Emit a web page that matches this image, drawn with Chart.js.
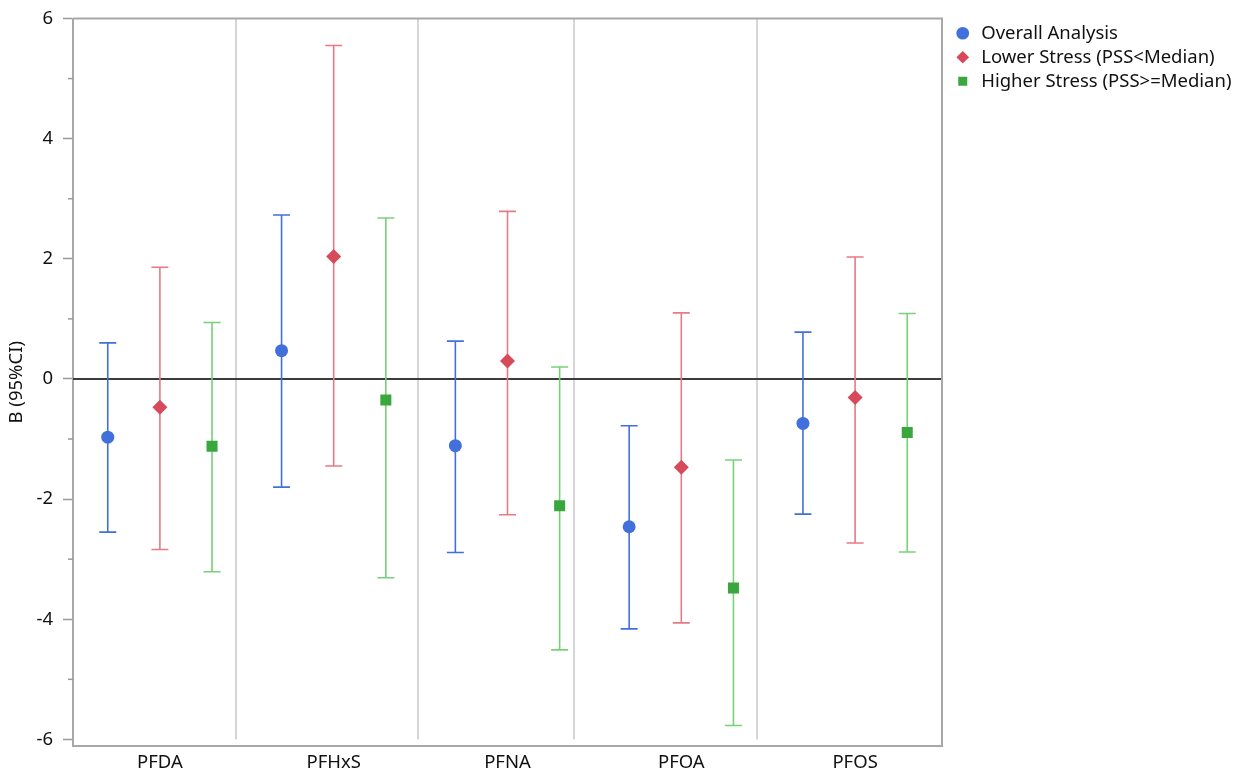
<!DOCTYPE html>
<html lang="en">
<head>
    <meta charset="UTF-8">
    <title>PFAS and perceived stress</title>
    <script src="https://cdn.jsdelivr.net/npm/chart.js@4"></script>
    <style>
        html, body { margin: 0; padding: 0; background: #fff; }
        #wrap { width: 1245px; height: 772px; }
    </style>
</head>
<body>
    <div id="wrap"><canvas id="chart"></canvas></div>
    <script>
        // categories + series (B and 95% CI)
        const categories = ['PFDA', 'PFHxS', 'PFNA', 'PFOA', 'PFOS'];
        const seriesNames = ['Overall Analysis', 'Lower Stress (PSS<Median)', 'Higher Stress (PSS>=Median)'];

        const overallB  = [-0.97,  0.47, -1.11, -2.46, -0.74];
        const overallLo = [-2.55, -1.80, -2.89, -4.16, -2.25];
        const overallHi = [ 0.60,  2.73,  0.63, -0.78,  0.78];

        const lowerB  = [-0.47,  2.04,  0.30, -1.47, -0.31];
        const lowerLo = [-2.84, -1.45, -2.26, -4.06, -2.73];
        const lowerHi = [ 1.86,  5.55,  2.79,  1.10,  2.03];

        const higherB  = [-1.12, -0.35, -2.11, -3.48, -0.89];
        const higherLo = [-3.21, -3.31, -4.51, -5.77, -2.88];
        const higherHi = [ 0.94,  2.68,  0.20, -1.35,  1.09];

        const yTicks = [-6, -4, -2, 0, 2, 4, 6];
        const yMinorTicks = [-5, -3, -1, 1, 3, 5];
        const separators = [0.435, 1.486, 2.383, 3.434];

        const offsets = [-0.3, 0, 0.3];
        const markerColors = ['#4170dc', '#d64a5a', '#3aa63e'];
        const barColors = ['#4170dc', '#e67a86', '#78d078'];
        const markerStyles = ['circle', 'rectRot', 'rect'];
        const markerRadius = [6.5, 7.5, 7.8];

        const FONT = "'Noto Sans', 'Open Sans', sans-serif";
        const FSIZE = 18.5;

        function markerData(b, k) {
            return categories.map((c, i) => ({ x: i + offsets[k], y: b[i] }));
        }
        function barData(lo, hi, k) {
            const pts = [];
            categories.forEach((c, i) => {
                const xv = i + offsets[k];
                pts.push({ x: xv, y: lo[i] }, { x: xv, y: hi[i] }, { x: xv, y: null });
            });
            return pts;
        }

        const groups = [
            [overallB, overallLo, overallHi],
            [lowerB, lowerLo, lowerHi],
            [higherB, higherLo, higherHi]
        ];

        const datasets = [];
        groups.forEach((g, k) => {
            datasets.push({
                type: 'scatter',
                label: seriesNames[k],
                data: markerData(g[0], k),
                pointStyle: markerStyles[k],
                pointRadius: markerRadius[k],
                pointHoverRadius: markerRadius[k],
                backgroundColor: markerColors[k],
                borderColor: markerColors[k],
                pointBorderWidth: 0,
                order: 0
            });
        });
        groups.forEach((g, k) => {
            datasets.push({
                type: 'line',
                label: 'ci' + k,
                data: barData(g[1], g[2], k),
                borderColor: barColors[k],
                borderWidth: 1.6,
                spanGaps: false,
                fill: false,
                pointStyle: 'line',
                pointRadius: 8.5,
                pointHoverRadius: 8.5,
                pointBorderColor: barColors[k],
                pointBorderWidth: 1.6,
                order: 1
            });
        });

        // separators, zero line, top/right frame and minor y ticks
        const decor = {
            id: 'decor',
            beforeDatasetsDraw(chart) {
                const { ctx, chartArea: a, scales: { x, y } } = chart;
                ctx.save();
                ctx.strokeStyle = '#d6d6d6';
                ctx.lineWidth = 2;
                separators.forEach(v => {
                    const px = Math.round(x.getPixelForValue(v));
                    ctx.beginPath();
                    ctx.moveTo(px, a.top);
                    ctx.lineTo(px, y.getPixelForValue(-6));
                    ctx.stroke();
                });
                const y0 = y.getPixelForValue(0);
                ctx.strokeStyle = '#3c3c3c';
                ctx.lineWidth = 2;
                ctx.beginPath();
                ctx.moveTo(a.left, y0);
                ctx.lineTo(a.right, y0);
                ctx.stroke();
                ctx.restore();
            },
            afterDraw(chart) {
                const { ctx, chartArea: a, scales: { y } } = chart;
                ctx.save();
                ctx.strokeStyle = '#a8a8a8';
                ctx.lineWidth = 2;
                ctx.beginPath();
                ctx.moveTo(a.left, a.top);
                ctx.lineTo(a.right, a.top);
                ctx.lineTo(a.right, a.bottom);
                ctx.stroke();
                ctx.lineWidth = 1.5;
                ctx.strokeStyle = '#999';
                yMinorTicks.forEach(v => {
                    const py = y.getPixelForValue(v);
                    ctx.beginPath();
                    ctx.moveTo(a.left - 5, py);
                    ctx.lineTo(a.left, py);
                    ctx.stroke();
                });
                ctx.restore();
            }
        };

        new Chart(document.getElementById('chart'), {
            data: { datasets },
            options: {
                responsive: true,
                maintainAspectRatio: false,
                animation: false,
                layout: {
                    autoPadding: false,
                    padding: { left: 0, right: 9, top: 18.5, bottom: 0 }
                },
                plugins: {
                    tooltip: { enabled: false },
                    legend: {
                        position: 'right',
                        align: 'start',
                        maxWidth: 288,
                        labels: {
                            usePointStyle: true,
                            boxHeight: 9,
                            padding: 5.5,
                            color: '#111',
                            font: { family: FONT, size: FSIZE },
                            filter: item => seriesNames.includes(item.text)
                        }
                    }
                },
                scales: {
                    x: {
                        type: 'linear',
                        min: -0.5,
                        max: 4.5,
                        afterBuildTicks: s => { s.ticks = categories.map((c, i) => ({ value: i })); },
                        afterFit: s => { s.height = 26; },
                        ticks: {
                            callback: v => categories[v],
                            color: '#111',
                            padding: 6,
                            font: { family: FONT, size: FSIZE }
                        },
                        grid: { display: false, drawTicks: false },
                        border: { display: true, color: '#a8a8a8', width: 2 }
                    },
                    y: {
                        min: -6.11,
                        max: 6,
                        afterBuildTicks: s => { s.ticks = yTicks.map(v => ({ value: v })); },
                        afterFit: s => { s.width = 73; s.paddingTop = 0; s.paddingBottom = 0; },
                        ticks: {
                            color: '#111',
                            padding: 10,
                            font: { family: FONT, size: FSIZE, lineHeight: 0.9 }
                        },
                        grid: {
                            drawOnChartArea: false,
                            tickLength: 10,
                            tickColor: '#999',
                            tickWidth: 1.5
                        },
                        border: { display: true, color: '#a8a8a8', width: 2 },
                        title: {
                            display: true,
                            text: 'B (95%CI)',
                            color: '#111',
                            padding: { top: 6, bottom: 0 },
                            font: { family: FONT, size: FSIZE }
                        }
                    },
                    // empty spacer between the plot frame and the legend
                    gap: {
                        axis: 'y',
                        position: 'right',
                        display: true,
                        afterFit: s => { s.width = 6; },
                        ticks: { display: false },
                        grid: { display: false, drawTicks: false },
                        border: { display: false }
                    }
                }
            },
            plugins: [decor]
        });
    </script>
</body>
</html>
